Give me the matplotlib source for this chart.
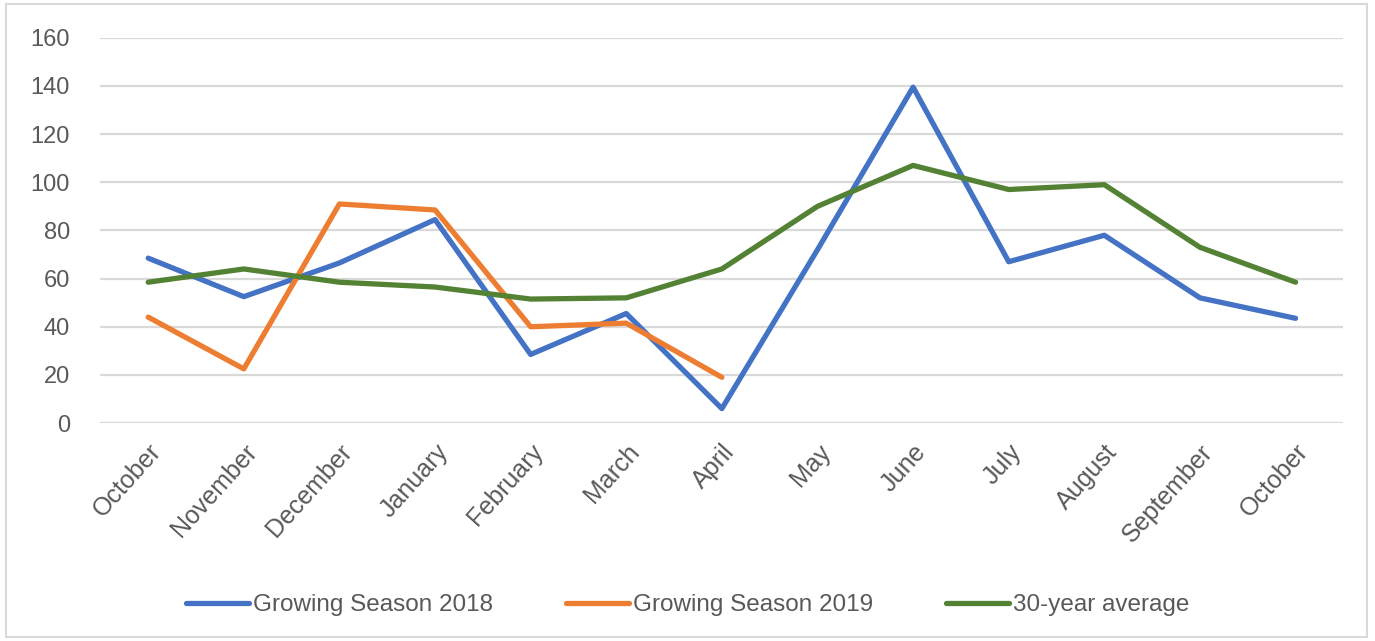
import matplotlib
matplotlib.use("Agg")
import matplotlib.pyplot as plt
from matplotlib.patches import Rectangle

months = ["October", "November", "December", "January", "February", "March", "April",
          "May", "June", "July", "August", "September", "October"]
season_2018 = [68.5, 52.5, 66.5, 84.5, 28.5, 45.5, 6, 72, 139.5, 67, 78, 52, 43.5]
season_2019 = [44, 22.5, 91, 88.5, 40, 41.5, 19]
avg_30yr = [58.5, 64, 58.5, 56.5, 51.5, 52, 64, 90, 107, 97, 99, 73, 58.5]

plt.rcParams['font.family'] = ['Liberation Sans', 'DejaVu Sans']

fig = plt.figure(figsize=(13.75, 6.41), dpi=100)
ax = fig.add_axes([0.073, 0.34, 0.904, 0.601])

x = list(range(len(months)))
ax.plot(x, season_2018, color="#4472C4", lw=3.8, label="Growing Season 2018", solid_capstyle="round")
ax.plot(x[:len(season_2019)], season_2019, color="#ED7D31", lw=3.8, label="Growing Season 2019", solid_capstyle="round")
ax.plot(x, avg_30yr, color="#548235", lw=3.8, label="30-year average", solid_capstyle="round")

ax.set_xlim(-0.5, 12.5)
ax.set_ylim(0, 160)
ax.set_yticks(range(0, 161, 20))
ax.yaxis.grid(True, color="#D9D9D9", lw=1.6)
ax.set_axisbelow(True)
for s in ax.spines.values():
    s.set_visible(False)
ax.tick_params(length=0, labelsize=17, colors="#595959")
ax.tick_params(axis="y", pad=22)
ax.tick_params(axis="x", pad=12, labelsize=18)
ax.set_xticks(x)
ax.set_xticklabels(months, rotation=48, ha="right", rotation_mode="anchor")

fig.legend(loc="center", bbox_to_anchor=(0.5, 0.056), ncol=3, frameon=False,
           fontsize=17.5, labelcolor="#595959", handlelength=2.6, columnspacing=3.0,
           handletextpad=0.15)

fig.patches.append(Rectangle((0.004, 0.006), 0.99, 0.988, transform=fig.transFigure,
                             fill=False, edgecolor="#D9D9D9", lw=1.5))

fig.savefig("out.png", dpi=100)
